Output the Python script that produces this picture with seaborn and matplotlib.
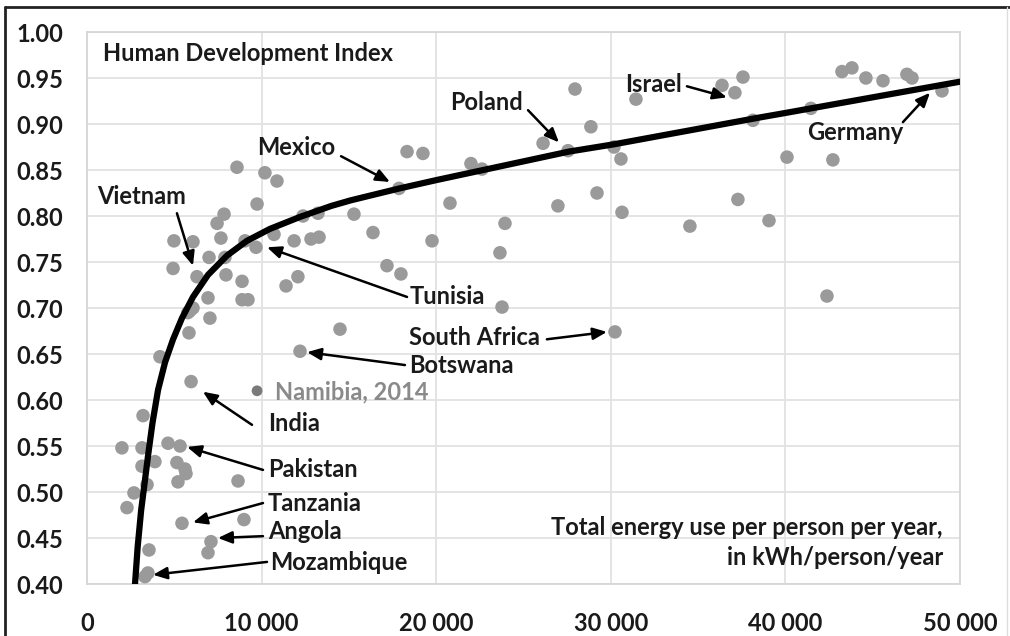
import matplotlib
matplotlib.use("Agg")
import matplotlib.pyplot as plt
import seaborn as sns
import pandas as pd
from matplotlib.lines import Line2D

# energy use (kWh/person/year) and HDI for each country dot
energy = [8590, 10190, 10880, 9740, 7850, 12370, 13230, 7450, 4980, 6070,
          7670, 9050, 9680, 10710, 11860, 12830, 13290, 4930, 6990, 7900,
          6300, 7960, 8880, 11400, 12080, 6930, 8880, 9220, 5900, 6070,
          5780, 7040, 5840, 4180, 14490, 12200, 5960, 3210, 2000, 3150,
          4640, 5330, 3150, 3890, 5150, 5610, 5670, 5210, 8650, 3440,
          2690, 2290, 5440, 8990, 7100, 6930, 3550, 3320, 3490,
          18330, 19240, 17870, 15290, 21990, 22620, 20790, 23940, 26120, 27550,
          27950, 28860, 31440, 30180, 30580, 29210, 26970, 30640, 16380, 19760,
          23650, 17180, 17980, 23770, 30240,
          36370, 37110, 37570, 38140, 41460, 43240, 43810, 44610, 45590, 46960,
          47250, 48970, 40090, 42720, 37280, 39060, 34530, 42380]
hdi = [0.853, 0.847, 0.838, 0.813, 0.802, 0.800, 0.803, 0.792, 0.773, 0.772,
       0.776, 0.773, 0.766, 0.780, 0.773, 0.775, 0.777, 0.743, 0.755, 0.755,
       0.734, 0.736, 0.729, 0.724, 0.734, 0.711, 0.709, 0.709, 0.697, 0.700,
       0.695, 0.689, 0.673, 0.647, 0.677, 0.653, 0.620, 0.583, 0.548, 0.548,
       0.553, 0.550, 0.528, 0.533, 0.532, 0.525, 0.520, 0.511, 0.512, 0.508,
       0.499, 0.483, 0.466, 0.470, 0.446, 0.434, 0.437, 0.408, 0.412,
       0.870, 0.868, 0.830, 0.802, 0.857, 0.851, 0.814, 0.792, 0.879, 0.871,
       0.938, 0.897, 0.927, 0.875, 0.862, 0.825, 0.811, 0.804, 0.782, 0.773,
       0.760, 0.746, 0.737, 0.701, 0.674,
       0.942, 0.934, 0.951, 0.904, 0.917, 0.957, 0.961, 0.950, 0.947, 0.954,
       0.950, 0.936, 0.864, 0.861, 0.818, 0.795, 0.789, 0.713]

# Namibia 2014 highlighted
namibia_energy = [9740]
namibia_hdi = [0.610]

# trend curve
trend_energy = [2750, 2900, 3100, 3300, 3500, 3750, 4070, 4470, 4930, 5440,
                6070, 6930, 8020, 9160, 10480, 12200, 14000, 15100, 17900,
                20000, 27600, 30200, 38500, 40000, 50000]
trend_hdi = [0.400, 0.440, 0.480, 0.510, 0.540, 0.575, 0.611, 0.641, 0.666, 0.689,
             0.712, 0.736, 0.757, 0.773, 0.786, 0.799, 0.811, 0.817, 0.830,
             0.839, 0.870, 0.878, 0.907, 0.912, 0.946]

x_ticks = [0, 10000, 20000, 30000, 40000, 50000]
y_ticks = [0.40, 0.45, 0.50, 0.55, 0.60, 0.65, 0.70, 0.75, 0.80, 0.85, 0.90, 0.95, 1.00]

# label text, text anchor, arrow tail, arrow head
labels = [
    ("Vietnam", (573, 0.821), (5150, 0.803), (6070, 0.746)),
    ("Mexico", (9740, 0.874), (14550, 0.865), (17350, 0.837)),
    ("Poland", (20790, 0.923), (25260, 0.915), (27030, 0.880)),
    ("Israel", (30810, 0.943), (34360, 0.941), (36650, 0.929)),
    ("Germany", (41230, 0.891), (46730, 0.902), (48280, 0.934)),
    ("Tunisia", (18500, 0.712), (18330, 0.712), (10310, 0.766)),
    ("South Africa", (18440, 0.668), (26340, 0.666), (29780, 0.674)),
    ("Botswana", (18440, 0.638), (18210, 0.638), (12600, 0.652)),
    ("India", (10370, 0.575), (9450, 0.573), (6640, 0.609)),
    ("Pakistan", (10370, 0.524), (10080, 0.524), (5730, 0.549)),
    ("Tanzania", (10370, 0.488), (10080, 0.488), (6070, 0.467)),
    ("Angola", (10370, 0.457), (10080, 0.452), (7500, 0.450)),
    ("Mozambique", (10480, 0.423), (10310, 0.424), (3780, 0.410)),
]

FS = 17

sns.set_theme(style="whitegrid")
plt.rcParams['font.family'] = ['Lato', 'DejaVu Sans']
plt.rcParams['font.weight'] = 'bold'

fig = plt.figure(figsize=(10.1, 6.36), dpi=100)
ax = fig.add_axes([87 / 1010, 1 - 584 / 636, 873 / 1010, 552 / 636])

df = pd.DataFrame({"energy": energy, "hdi": hdi})
sns.scatterplot(data=df, x="energy", y="hdi", ax=ax, s=95, color="#9a9a9a",
                edgecolor="none", zorder=3)
sns.scatterplot(x=namibia_energy, y=namibia_hdi, ax=ax, s=60, color="#7a7a7a",
                edgecolor="none", zorder=3)
sns.lineplot(x=trend_energy, y=trend_hdi, ax=ax, color="black", linewidth=4.5,
             sort=False, estimator=None, zorder=4)

ax.set_xlim(0, 50000)
ax.set_ylim(0.40, 1.00)
ax.set_xticks(x_ticks)
ax.set_yticks(y_ticks)
ax.set_xticklabels([f"{t:,}".replace(",", " ") for t in x_ticks])
ax.set_yticklabels([f"{t:.2f}" for t in y_ticks])
ax.tick_params(axis="x", length=0, pad=20, labelsize=FS, labelcolor="#1a1a1a")
ax.tick_params(axis="y", length=0, pad=17, labelsize=FS, labelcolor="#1a1a1a")
for lab in ax.get_xticklabels() + ax.get_yticklabels():
    lab.set_fontweight("bold")
ax.grid(True, color="#e2e2e2", linewidth=1.3)
for sp in ax.spines.values():
    sp.set_color("#d6d6d6")
    sp.set_linewidth(1.3)
ax.set_xlabel("")
ax.set_ylabel("")

ax.text(916, 0.977, "Human Development Index", fontsize=FS, fontweight="bold",
        va="center", ha="left", color="#1a1a1a")
ax.text(10770, 0.609, "Namibia, 2014", fontsize=FS, fontweight="bold",
        va="center", ha="left", color="#8a8a8a")

for name, txt, tail, head in labels:
    ax.text(txt[0], txt[1], name, fontsize=FS, fontweight="bold",
            va="center", ha="left", color="#1a1a1a", zorder=5)
    ax.annotate("", xy=head, xytext=tail,
                arrowprops=dict(arrowstyle="-|>,head_length=0.7,head_width=0.3",
                                color="black", lw=1.8, shrinkA=0, shrinkB=0),
                zorder=5)

ax.text(49020, 0.461, "Total energy use per person per year,", fontsize=FS,
        fontweight="bold", ha="right", va="center", color="#1a1a1a")
ax.text(49020, 0.429, "in kWh/person/year", fontsize=FS,
        fontweight="bold", ha="right", va="center", color="#1a1a1a")

# outer chart border
fig.add_artist(Line2D([5 / 1010, 5 / 1010], [0, 1 - 7 / 636], color="#222222", lw=2))
fig.add_artist(Line2D([5 / 1010, 1], [1 - 7 / 636, 1 - 7 / 636], color="#222222", lw=2))
fig.add_artist(Line2D([1007 / 1010, 1007 / 1010], [0, 1 - 7 / 636], color="#dddddd", lw=1))

fig.savefig("out.png", dpi=100)
